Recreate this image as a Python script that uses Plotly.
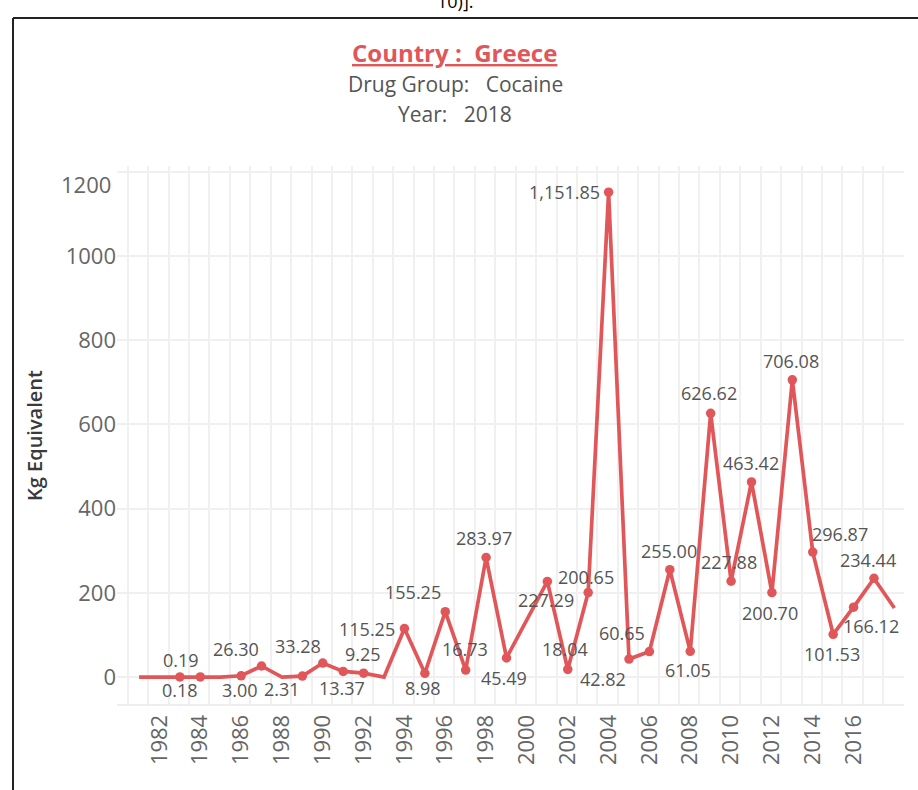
import plotly.graph_objects as go

# ---- data ----
years = [1981, 1982, 1983, 1984, 1985, 1986, 1987, 1988, 1989, 1990, 1991, 1992, 1993,
         1994, 1995, 1996, 1997, 1998, 1999, 2001, 2002, 2003, 2004, 2005, 2006, 2007,
         2008, 2009, 2010, 2011, 2012, 2013, 2014, 2015, 2016, 2017, 2018]
kg = [0, 0, 0.19, 0.18, 0, 3.00, 26.30, 0, 2.31, 33.28, 13.37, 9.25, 0,
      115.25, 8.98, 155.25, 16.73, 283.97, 45.49, 227.29, 18.04, 200.65, 1151.85, 42.82, 60.65, 255.00,
      61.05, 626.62, 227.88, 463.42, 200.70, 706.08, 296.87, 101.53, 166.12, 234.44, 164]
labeled = [False, False, True, True, False, True, True, False, True, True, True, True, False,
           True, True, True, True, True, True, True, True, True, True, True, True, True,
           True, True, True, True, True, True, True, True, True, True, False]
x_tick_years = list(range(1982, 2017, 2))
y_ticks = [0, 200, 400, 600, 800, 1000, 1200]

# label offsets in pixels (dx right, dy down) for labelled points, in order
label_offsets = [(1, -17), (-20, 13), (-1, 14), (-26, -17), (-20, 13), (-25, -17), (-1, 17),
                 (-1, -19), (-37, 0), (-2, 15), (-32, -20), (-1, -21), (-2, -20), (-3, 20),
                 (-1, 19), (-3, -20), (-2, -16), (-44, 0), (-26, 20), (-27, -19), (-1, -19),
                 (-2, 19), (-2, -20), (-2, -19), (-1, -19), (-2, 20), (-1, -19), (27, -18),
                 (-1, 20), (17, 19), (-6, -18)]

RED = "#E15759"
FONT = "Open Sans"

mx = [y for y, f in zip(years, labeled) if f]
my = [v for v, f in zip(kg, labeled) if f]

fig = go.Figure()
fig.add_trace(go.Scatter(x=years, y=kg, mode="lines",
                         line=dict(color=RED, width=3.7), hoverinfo="skip", showlegend=False))
fig.add_trace(go.Scatter(x=mx, y=my, mode="markers",
                         marker=dict(color=RED, size=9.5), showlegend=False))

annotations = []
for (x, v), (dx, dy) in zip(zip(mx, my), label_offsets):
    annotations.append(dict(x=x, y=v, xref="x", yref="y", text=f"{v:,.2f}", showarrow=False,
                            xanchor="center", yanchor="middle", xshift=dx, yshift=-dy,
                            font=dict(family=FONT, size=18, color="#555555")))

# top tick label (shifted into the pane like the original)
annotations.append(dict(x=0, y=1200, xref="paper", yref="y", text="1200", showarrow=False,
                        xanchor="right", yanchor="middle", xshift=-4, yshift=-12,
                        font=dict(family=FONT, size=22, color="#666666")))

# titles
W, H = 918, 790
L, R, T, B = 117, 14, 166, 86
pw, ph = W - L - R, H - T - B


def px(xp):
    return (xp - L) / pw


def py(yp):
    return (H - B - yp) / ph


annotations.append(dict(x=px(454), y=py(52), xref="paper", yref="paper",
                        text="Country\u00a0:\u00a0 Greece", showarrow=False,
                        xanchor="center", yanchor="middle",
                        font=dict(family=FONT, size=24, color=RED, weight="bold", lineposition="under")))
annotations.append(dict(x=px(455), y=py(84), xref="paper", yref="paper",
                        text="Drug Group:\u00a0\u00a0 Cocaine", showarrow=False,
                        xanchor="center", yanchor="middle",
                        font=dict(family=FONT, size=21, color="#555555")))
annotations.append(dict(x=px(455), y=py(114), xref="paper", yref="paper",
                        text="Year:\u00a0\u00a0 2018", showarrow=False,
                        xanchor="center", yanchor="middle",
                        font=dict(family=FONT, size=21, color="#555555")))
annotations.append(dict(x=px(34), y=py(436), xref="paper", yref="paper",
                        text="Kg Equivalent", showarrow=False, textangle=-90,
                        xanchor="center", yanchor="middle",
                        font=dict(family=FONT, size=20, color="#3a3a3a", weight=600)))
annotations.append(dict(x=px(455), y=py(1), xref="paper", yref="paper",
                        text="10)].", showarrow=False,
                        xanchor="center", yanchor="middle",
                        font=dict(family=FONT, size=18, color="#000000")))

shapes = [
    # zero reference line
    dict(type="line", xref="paper", yref="y", x0=0.012, x1=1, y0=0, y1=0,
         line=dict(color="#b8b8b8", width=1, dash="dash"), layer="below"),
    # outer frame
    dict(type="line", xref="paper", yref="paper", x0=px(13), x1=px(13), y0=py(18), y1=py(800),
         line=dict(color="#222222", width=2)),
    dict(type="line", xref="paper", yref="paper", x0=px(13), x1=px(930), y0=py(18), y1=py(18),
         line=dict(color="#222222", width=2)),
]

fig.update_layout(
    width=W, height=H,
    margin=dict(l=L, r=R, t=T, b=B),
    paper_bgcolor="white", plot_bgcolor="white",
    showlegend=False,
    annotations=annotations,
    shapes=shapes,
    xaxis=dict(
        range=[1979.92, 2018.47],
        tickmode="array", tickvals=x_tick_years, ticktext=[str(y) for y in x_tick_years],
        tickangle=-90, ticks="", showgrid=False, zeroline=False,
        tickfont=dict(family=FONT, size=22, color="#666666"),
        showline=True, linecolor="#eeeeee", linewidth=2,
        minor=dict(tickvals=[y - 0.55 for y in range(1981, 2020)], showgrid=True,
                   gridcolor="#f0f0f0", gridwidth=2),
    ),
    yaxis=dict(
        range=[-64, 1214],
        tickmode="array", tickvals=y_ticks, ticktext=[str(v) if v < 1200 else "" for v in y_ticks],
        ticks="", showgrid=True, gridcolor="#f0f0f0", gridwidth=2, zeroline=False,
        tickfont=dict(family=FONT, size=22, color="#666666"),
    ),
)

fig.write_html("out.html", config={"displayModeBar": False},
               post_script="document.body.style.margin='0';document.body.style.overflow='hidden';")
